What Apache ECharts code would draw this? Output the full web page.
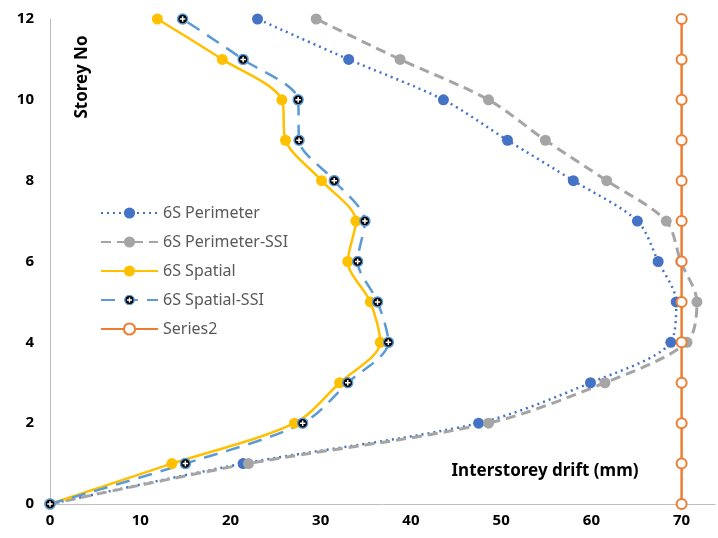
<!DOCTYPE html>
<html><head><meta charset="utf-8">
<script src="https://cdn.jsdelivr.net/npm/echarts@6/dist/echarts.min.js"></script>
<style>html,body{margin:0;padding:0;background:#fff}#c{width:718px;height:538px}</style>
</head><body><div id="c"></div>
<script>
const storeys = [0,1,2,3,4,5,6,7,8,9,10,11,12];
const perimeter = [0,21.4,47.5,59.9,68.8,69.4,67.4,65.1,58.0,50.7,43.6,33.1,23.0];
const perimeterSSI = [0,22.0,48.6,61.5,70.6,71.7,69.9,68.3,61.7,54.9,48.6,38.8,29.5];
const spatial = [0,13.5,27.1,32.1,36.6,35.5,33.0,33.9,30.1,26.1,25.7,19.1,11.9];
const spatialSSI = [0,15.0,28.0,33.0,37.5,36.3,34.1,34.9,31.5,27.6,27.5,21.4,14.7];
const series2 = [70,70,70,70,70,70,70,70,70,70,70,70,70];
const names = ['6S Perimeter','6S Perimeter-SSI','6S Spatial','6S Spatial-SSI','Series2'];
const xTitle = 'Interstorey drift (mm)';
const yTitle = 'Storey No';

const pair = arr => arr.map((v,i)=>[v, storeys[i]]);
const ssiSym = 'image://data:image/svg+xml;utf8,' + encodeURIComponent(
  "<svg xmlns='http://www.w3.org/2000/svg' width='24' height='24' viewBox='0 0 24 24'><circle cx='12' cy='12' r='10' fill='#000' stroke='#5B9BD5' stroke-width='3'/><path d='M12 6.5v11M6.5 12h11' stroke='#fff' stroke-width='3'/></svg>");

const chart = echarts.init(document.getElementById('c'), null, {renderer:'canvas'});
const font = '"Noto Sans", "DejaVu Sans", sans-serif';
chart.setOption({
  animation:false,
  backgroundColor:'#fff',
  grid:{left:50, top:19, bottom:34, right:0, containLabel:false},
  xAxis:{type:'value', min:0, max:73.7, interval:10,
    axisLine:{show:true, lineStyle:{color:'#bfbfbf', width:1}},
    axisTick:{show:false}, splitLine:{show:false},
    axisLabel:{color:'#000', fontWeight:'bold', fontSize:15, fontFamily:font, margin:9,
      formatter: v => (Math.abs(v % 10) < 1e-6 ? String(v) : '')}},
  yAxis:{type:'value', min:0, max:12, interval:2,
    axisLine:{show:true, lineStyle:{color:'#bfbfbf', width:1}},
    axisTick:{show:false}, splitLine:{show:false},
    axisLabel:{color:'#000', fontWeight:'bold', fontSize:15, fontFamily:font, margin:16}},
  legend:{orient:'vertical', left:100, top:205, padding:0, itemWidth:57, itemHeight:14, itemGap:13,
    textStyle:{color:'#595959', fontSize:16, fontFamily:font}, data:names},
  graphic:[
    {type:'text', x:82, y:77, rotation:Math.PI/2,
      style:{text:yTitle, fill:'#000', font:'bold 17px '+font, textAlign:'center', textVerticalAlign:'middle'}},
    {type:'text', x:545, y:471,
      style:{text:xTitle, fill:'#000', font:'bold 17px '+font, textAlign:'center', textVerticalAlign:'middle'}}
  ],
  series:[
    {name:names[0], type:'line', data:pair(perimeter), smooth:0.3, symbol:'circle', symbolSize:11,
      itemStyle:{color:'#4472C4'}, lineStyle:{color:'#4472C4', width:2.5, type:[2,4]}},
    {name:names[1], type:'line', data:pair(perimeterSSI), smooth:0.3, symbol:'circle', symbolSize:11,
      itemStyle:{color:'#A5A5A5'}, lineStyle:{color:'#A5A5A5', width:3, type:[10,6]}},
    {name:names[2], type:'line', data:pair(spatial), smooth:0.3, symbol:'circle', symbolSize:11,
      itemStyle:{color:'#FFC000'}, lineStyle:{color:'#FFC000', width:2.5}},
    {name:names[3], type:'line', data:pair(spatialSSI), smooth:0.3, symbol:ssiSym, symbolSize:12,
      itemStyle:{color:'#5B9BD5'}, lineStyle:{color:'#5B9BD5', width:2.5, type:[14,9]}},
    {name:names[4], type:'line', data:pair(series2), symbol:'circle', symbolSize:10,
      itemStyle:{color:'#fff', borderColor:'#ED7D31', borderWidth:2}, lineStyle:{color:'#ED7D31', width:2.5}}
  ]
});
</script></body></html>
